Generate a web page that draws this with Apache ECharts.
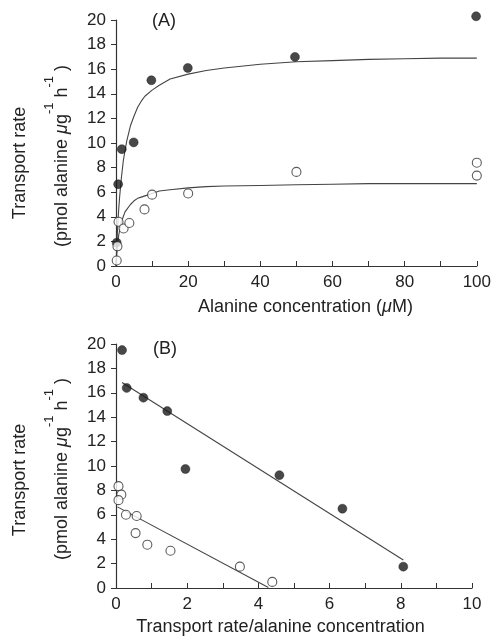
<!DOCTYPE html>
<html>
<head>
<meta charset="utf-8">
<script src="https://cdn.jsdelivr.net/npm/echarts@6/dist/echarts.min.js"></script>
<style>
  html, body { margin: 0; padding: 0; background: #fff; }
  #chart { width: 494px; height: 637px; }
</style>
</head>
<body>
<div id="chart"></div>
<script>
// Panel A: transport rate vs alanine concentration
const concFilled = [0.2, 0.6, 1.6, 4.9, 9.8, 19.9, 49.6, 99.8];
const rateFilled = [1.9, 6.65, 9.5, 10.05, 15.1, 16.1, 17.0, 20.3];
const concOpen = [0.2, 0.4, 0.7, 2.1, 3.7, 7.9, 10.0, 20.0, 50.0, 100, 100];
const rateOpen = [0.45, 1.6, 3.6, 3.05, 3.5, 4.6, 5.8, 5.9, 7.65, 8.4, 7.35];
const fitConc = [0, 0.25, 0.5, 0.75, 1, 1.5, 2, 2.5, 3, 4, 5, 6, 7, 8, 10, 12, 15, 20, 25, 30, 40, 50, 60, 70, 80, 90, 100];
const fitFilled = [0, 1.9, 3.4, 4.6, 5.6, 7.2, 8.5, 9.4, 10.2, 11.4, 12.2, 12.9, 13.4, 13.8, 14.3, 14.7, 15.2, 15.6, 15.9, 16.1, 16.4, 16.6, 16.7, 16.8, 16.85, 16.9, 16.9];
const fitOpen = [0, 1.1, 1.9, 2.5, 2.9, 3.6, 4.0, 4.4, 4.6, 5.0, 5.3, 5.5, 5.6, 5.7, 5.9, 6.1, 6.2, 6.35, 6.45, 6.5, 6.55, 6.6, 6.65, 6.7, 6.7, 6.7, 6.7];

// Panel B: Eadie-Hofstee plot
const ratioFilled = [0.17, 0.3, 0.77, 1.44, 1.95, 4.59, 6.36, 8.07];
const rateFilledB = [19.5, 16.4, 15.6, 14.5, 9.75, 9.25, 6.5, 1.75];
const ratioOpen = [0.07, 0.15, 0.07, 0.28, 0.58, 0.55, 0.88, 1.53, 3.48, 4.39];
const rateOpenB = [8.35, 7.65, 7.2, 6.0, 5.9, 4.5, 3.55, 3.05, 1.75, 0.5];
const lineFilledX = [0.17, 8.07];
const lineFilledY = [16.85, 2.3];
const lineOpenX = [0.04, 4.28];
const lineOpenY = [6.65, 0.05];

const ink = '#222';
const font = '"Liberation Sans", Arial, sans-serif';

const zip = (xs, ys) => xs.map((x, i) => [x, ys[i]]);

function xAxisOpt(gridIndex, max, interval, labelEvery, name, namePad, nameGap) {
  return {
    type: 'value',
    gridIndex,
    min: 0,
    max,
    interval,
    name,
    nameLocation: 'middle',
    nameGap,
    nameTextStyle: {
      color: ink, fontFamily: font, fontSize: 18, padding: namePad,
      rich: { mu: { color: ink, fontFamily: font, fontSize: 18, fontStyle: 'italic' } },
    },
    axisLine: { lineStyle: { color: '#333', width: 1.2 } },
    axisTick: { inside: true, length: 5, lineStyle: { color: '#333' } },
    axisLabel: {
      color: ink, fontFamily: font, fontSize: 17, margin: 8,
      formatter: (v) => (Math.round(v / interval) % labelEvery === 0 ? String(v) : ''),
    },
    splitLine: { show: false },
  };
}

function yAxisOpt(gridIndex, shift, lineShift) {
  return {
    type: 'value',
    gridIndex,
    min: 0,
    max: 20,
    interval: 2,
    name: '{t|Transport rate}\n{p|(pmol alanine }{mu|\u03bc}{p|g}{s|-1}{p| h}{s|-1}{p| )}',
    nameLocation: 'middle',
    nameRotate: 90,
    nameGap: 35,
    nameTextStyle: {
      color: ink, fontFamily: font, fontSize: 18, padding: [0, 2 * shift, 0, 0],
      rich: {
        t: { color: ink, fontFamily: font, fontSize: 18, lineHeight: 46, padding: [0, 2 * lineShift, 0, 0] },
        p: { color: ink, fontFamily: font, fontSize: 18, lineHeight: 38 },
        mu: { color: ink, fontFamily: font, fontSize: 18, fontStyle: 'italic', lineHeight: 38 },
        s: { color: ink, fontFamily: font, fontSize: 13, lineHeight: 14, verticalAlign: 'top' },
      },
    },
    axisLine: { show: true, lineStyle: { color: '#333', width: 1.2 } },
    axisTick: { show: true, inside: false, length: 5, lineStyle: { color: '#333' } },
    axisLabel: { color: ink, fontFamily: font, fontSize: 17, margin: 10 },
    splitLine: { show: false },
  };
}

function dots(xi, data, filled) {
  return {
    type: 'scatter',
    xAxisIndex: xi,
    yAxisIndex: xi,
    data,
    clip: false,
    symbol: 'circle',
    symbolSize: 9,
    itemStyle: filled
      ? { color: '#1a1a1a', borderColor: '#111', borderWidth: 0.5 }
      : { color: '#fff', borderColor: '#333', borderWidth: 1.1 },
    z: 3,
  };
}

function fitLine(xi, data) {
  return {
    type: 'line',
    xAxisIndex: xi,
    yAxisIndex: xi,
    data,
    showSymbol: false,
    lineStyle: { color: '#444', width: 1.1 },
    z: 2,
  };
}

const chart = echarts.init(document.getElementById('chart'), null, { renderer: 'canvas' });

chart.setOption({
  backgroundColor: '#fff',
  animation: false,
  grid: [
    { left: 116, right: 17, top: 20, height: 246 },
    { left: 116, right: 22, top: 344, height: 245 },
  ],
  xAxis: [
    xAxisOpt(0, 100, 10, 2, 'Alanine concentration ({mu|\u03bc}M)', [0, 0, 0, 18], 32),
    xAxisOpt(1, 10, 1, 2, 'Transport rate/alanine concentration', [0, 27, 0, 0], 30),
  ],
  yAxis: [yAxisOpt(0, 13, 7), yAxisOpt(1, 3, 11)],
  graphic: [
    { type: 'text', left: 152, top: 12, style: { text: '(A)', fill: ink, font: '18px ' + font } },
    { type: 'text', left: 153, top: 340, style: { text: '(B)', fill: ink, font: '18px ' + font } },
  ],
  series: [
    fitLine(0, zip(fitConc, fitFilled)),
    fitLine(0, zip(fitConc, fitOpen)),
    dots(0, zip(concFilled, rateFilled), true),
    dots(0, zip(concOpen, rateOpen), false),
    fitLine(1, zip(lineFilledX, lineFilledY)),
    fitLine(1, zip(lineOpenX, lineOpenY)),
    dots(1, zip(ratioFilled, rateFilledB), true),
    dots(1, zip(ratioOpen, rateOpenB), false),
  ],
});
</script>
</body>
</html>
